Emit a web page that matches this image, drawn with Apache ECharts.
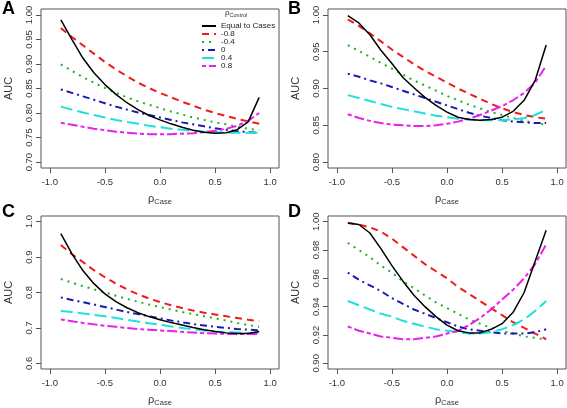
<!DOCTYPE html>
<html><head><meta charset="utf-8">
<script src="https://cdn.jsdelivr.net/npm/echarts@6/dist/echarts.min.js"></script>
<style>html,body{margin:0;padding:0;background:#fff}#c{width:567px;height:408px}</style>
</head><body><div id="c"></div>
<script>
const rhoCase = [-0.9,-0.8,-0.7,-0.6,-0.5,-0.4,-0.3,-0.2,-0.1,0,0.1,0.2,0.3,0.4,0.5,0.6,0.7,0.8,0.9];
const lineNames = ['Equal to Cases','-0.8','-0.4','0','0.4','0.8'];
const panelLetters = ['A','B','C','D'];
const xTicks = [-1,-0.5,0,0.5,1];
const yTicksA = [0.70,0.75,0.80,0.85,0.90,0.95,1.00];
const yTicksB = [0.80,0.85,0.90,0.95,1.00];
const yTicksC = [0.6,0.7,0.8,0.9,1.0];
const yTicksD = [0.90,0.92,0.94,0.96,0.98,1.00];

// Panel A
const aEqual = [0.990,0.950,0.912,0.882,0.858,0.838,0.821,0.807,0.795,0.786,0.778,0.771,0.765,0.761,0.759,0.760,0.766,0.782,0.832];
const aM08 = [0.973,0.955,0.938,0.921,0.904,0.889,0.875,0.862,0.851,0.841,0.832,0.823,0.815,0.807,0.800,0.794,0.788,0.783,0.778];
const aM04 = [0.899,0.886,0.873,0.862,0.851,0.841,0.832,0.824,0.817,0.810,0.803,0.797,0.791,0.786,0.781,0.777,0.772,0.768,0.765];
const a0 = [0.848,0.841,0.834,0.827,0.820,0.813,0.807,0.801,0.796,0.791,0.786,0.781,0.777,0.773,0.769,0.766,0.763,0.761,0.760];
const a04 = [0.813,0.807,0.801,0.796,0.791,0.786,0.782,0.778,0.774,0.771,0.768,0.766,0.764,0.762,0.761,0.760,0.760,0.760,0.760];
const a08 = [0.780,0.776,0.772,0.768,0.765,0.762,0.760,0.758,0.757,0.757,0.757,0.758,0.759,0.761,0.764,0.768,0.774,0.784,0.800];
// Panel B
const bEqual = [0.999,0.989,0.973,0.952,0.934,0.915,0.901,0.888,0.877,0.868,0.861,0.858,0.857,0.858,0.861,0.869,0.884,0.911,0.959];
const bM08 = [0.994,0.985,0.975,0.964,0.953,0.943,0.933,0.924,0.916,0.908,0.900,0.893,0.886,0.879,0.873,0.868,0.864,0.861,0.859];
const bM04 = [0.959,0.951,0.943,0.935,0.927,0.919,0.911,0.904,0.897,0.890,0.884,0.878,0.873,0.868,0.864,0.860,0.856,0.853,0.851];
const b0 = [0.920,0.916,0.911,0.907,0.902,0.897,0.892,0.887,0.882,0.877,0.872,0.867,0.863,0.860,0.857,0.855,0.854,0.853,0.853];
const b04 = [0.891,0.887,0.883,0.879,0.875,0.872,0.869,0.866,0.863,0.861,0.859,0.858,0.857,0.857,0.857,0.858,0.860,0.864,0.871];
const b08 = [0.865,0.860,0.856,0.853,0.851,0.850,0.849,0.849,0.850,0.852,0.855,0.859,0.864,0.870,0.876,0.884,0.894,0.908,0.931];
// Panel C
const cEqual = [0.966,0.910,0.862,0.825,0.796,0.774,0.757,0.743,0.732,0.723,0.715,0.708,0.701,0.695,0.690,0.686,0.684,0.684,0.690];
const cM08 = [0.934,0.908,0.886,0.863,0.843,0.825,0.809,0.795,0.783,0.773,0.764,0.756,0.749,0.743,0.738,0.733,0.728,0.723,0.719];
const cM04 = [0.838,0.828,0.818,0.809,0.800,0.791,0.782,0.774,0.766,0.759,0.752,0.745,0.739,0.733,0.727,0.721,0.714,0.708,0.703];
const c0 = [0.786,0.779,0.773,0.766,0.759,0.752,0.745,0.739,0.733,0.727,0.721,0.716,0.711,0.707,0.703,0.700,0.697,0.695,0.693];
const c04 = [0.748,0.745,0.741,0.737,0.733,0.728,0.723,0.718,0.713,0.709,0.704,0.700,0.696,0.693,0.690,0.688,0.687,0.686,0.686];
const c08 = [0.724,0.719,0.714,0.710,0.706,0.703,0.700,0.697,0.695,0.693,0.691,0.689,0.687,0.685,0.684,0.683,0.683,0.683,0.683];
// Panel D
const dEqual = [0.999,0.998,0.992,0.981,0.969,0.958,0.948,0.940,0.933,0.927,0.923,0.9215,0.9215,0.924,0.928,0.936,0.950,0.972,0.994];
const dM08 = [0.999,0.998,0.996,0.993,0.988,0.982,0.976,0.970,0.965,0.960,0.954,0.949,0.944,0.939,0.934,0.929,0.925,0.921,0.917];
const dM04 = [0.985,0.980,0.975,0.969,0.964,0.958,0.953,0.948,0.943,0.939,0.935,0.931,0.928,0.925,0.923,0.921,0.919,0.918,0.917];
const d0 = [0.964,0.959,0.955,0.951,0.946,0.942,0.938,0.935,0.932,0.929,0.926,0.924,0.923,0.922,0.921,0.921,0.921,0.922,0.924];
const d04 = [0.944,0.941,0.938,0.935,0.933,0.930,0.928,0.926,0.924,0.923,0.922,0.921,0.921,0.922,0.924,0.927,0.931,0.937,0.944];
const d08 = [0.926,0.923,0.921,0.919,0.918,0.917,0.917,0.918,0.919,0.921,0.923,0.927,0.932,0.938,0.945,0.952,0.960,0.970,0.984];

const panelData = [
  [aEqual,aM08,aM04,a0,a04,a08],
  [bEqual,bM08,bM04,b0,b04,b08],
  [cEqual,cM08,cM04,c0,c04,c08],
  [dEqual,dM08,dM04,d0,d04,d08]
];
const panelYTicks = [yTicksA,yTicksB,yTicksC,yTicksD];
const panelYDigits = [2,2,1,2];

// styles
const FONT = 'Liberation Sans, Arial, sans-serif';
const lineStyles = [
  {color:'#000000', width:1.5, type:'solid'},
  {color:'#ee1c1c', width:2, type:[7,5]},
  {color:'#22b022', width:2, type:[2,5]},
  {color:'#1a1ab4', width:2, type:[2,4,7,4]},
  {color:'#1fe0e0', width:2, type:[12,5]},
  {color:'#ea1fea', width:2, type:[4,3,10,3]}
];
const grids = [
  {left:41, top:9, width:238, height:159},
  {left:328, top:9, width:238, height:159},
  {left:41, top:216, width:238, height:158},
  {left:328, top:216, width:238, height:158}
];
function yRange(t){const ext=(t[t.length-1]-t[0])*0.04;return [t[0]-ext,t[t.length-1]+ext];}
const xExt = (xTicks[xTicks.length-1]-xTicks[0])*0.04;

const option = {
  animation:false,
  backgroundColor:'#ffffff',
  textStyle:{fontFamily:FONT},
  grid: grids.map(g=>Object.assign({show:true,borderColor:'#555',borderWidth:1,backgroundColor:'transparent',containLabel:false},g)),
  xAxis: grids.map((g,i)=>({
    type:'value', gridIndex:i, min:xTicks[0]-xExt, max:xTicks[xTicks.length-1]+xExt, position:'bottom',
    splitLine:{show:false}, axisLine:{show:false,onZero:false},
    axisTick:{show:true,inside:false,length:5,lineStyle:{color:'#555'},customValues:xTicks},
    axisLabel:{customValues:xTicks, formatter:v=>v.toFixed(1), fontSize:9.5, color:'#333', margin:9, fontFamily:FONT},
    name:'{r|ρ}{s|Case}', nameLocation:'middle', nameGap:24,
    nameTextStyle:{rich:{r:{fontSize:11,color:'#333',fontFamily:FONT,lineHeight:14,verticalAlign:'middle'},s:{fontSize:7.5,color:'#333',fontFamily:FONT,lineHeight:14,verticalAlign:'bottom',padding:[4,0,0,0]}}}
  })),
  yAxis: grids.map((g,i)=>{const r=yRange(panelYTicks[i]);return {
    type:'value', gridIndex:i, min:r[0], max:r[1], position:'left',
    splitLine:{show:false}, axisLine:{show:false,onZero:false},
    axisTick:{show:true,inside:false,length:5,lineStyle:{color:'#555'},customValues:panelYTicks[i]},
    axisLabel:{customValues:panelYTicks[i], formatter:v=>v.toFixed(panelYDigits[i]), rotate:90, fontSize:9.5, color:'#333', margin:7, fontFamily:FONT},
    name:'AUC', nameLocation:'middle', nameGap:27, nameTextStyle:{fontSize:11,color:'#333',fontFamily:FONT}
  };}),
  legend:{
    data:lineNames, orient:'vertical', left:201, top:22, padding:0,
    itemWidth:14, itemHeight:7, itemGap:0, selectedMode:false,
    itemStyle:{opacity:0},
    textStyle:{fontSize:8, lineHeight:8, color:'#222', fontFamily:FONT}
  },
  graphic:[
    {type:'text', left:225, top:9, style:{text:'{r|ρ}{s|Control}', rich:{r:{fontSize:8,fill:'#333',fontFamily:FONT,lineHeight:10,verticalAlign:'middle'},s:{fontSize:5.5,fill:'#333',fontFamily:FONT,lineHeight:10,verticalAlign:'bottom',padding:[2,0,0,0]}}}},
    ...panelLetters.map((L,i)=>({type:'text', left:[2,288,2,288][i], top:[0,0,203,203][i], style:{text:L, font:'bold 18px '+FONT, fill:'#000'}}))
  ],
  series: []
};
panelData.forEach((lines,p)=>{
  lines.forEach((vals,k)=>{
    option.series.push({
      type:'line', name:lineNames[k], xAxisIndex:p, yAxisIndex:p,
      data: rhoCase.map((x,i)=>[x,vals[i]]),
      symbol:'none', showSymbol:false, smooth:false, z: k===0?3:2,
      lineStyle:lineStyles[k]
    });
  });
});
const chart = echarts.init(document.getElementById('c'),null,{renderer:'canvas'});
chart.setOption(option);
</script></body></html>
